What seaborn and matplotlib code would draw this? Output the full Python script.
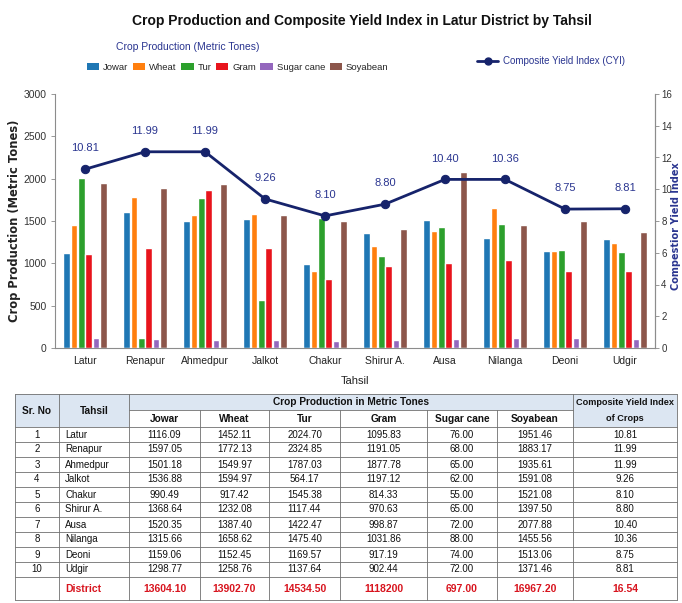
import numpy as np
import pandas as pd
import matplotlib
matplotlib.use("Agg")
import matplotlib.pyplot as plt
import seaborn as sns
from matplotlib.patches import Rectangle, Patch
from matplotlib.lines import Line2D

# ---------------- data ----------------
tahsils = ["Latur", "Renapur", "Ahmedpur", "Jalkot", "Chakur", "Shirur A.", "Ausa", "Nilanga", "Deoni", "Udgir"]
crops = ["Jowar", "Wheat", "Tur", "Gram", "Sugar cane", "Soyabean"]

# bar heights as drawn in the chart (metric tones)
bar_jowar = [1120, 1610, 1498, 1529, 994, 1360, 1510, 1305, 1148, 1293]
bar_wheat = [1454, 1789, 1566, 1584, 904, 1206, 1378, 1652, 1148, 1236]
bar_tur = [2012, 118, 1777, 562, 1533, 1090, 1427, 1466, 1159, 1128]
bar_gram = [1106, 1187, 1865, 1179, 816, 963, 1002, 1038, 915, 908]
bar_sugar = [118, 106, 98, 98, 86, 100, 102, 113, 121, 106]
bar_soy = [1953, 1893, 1934, 1572, 1504, 1405, 2078, 1450, 1501, 1371]
# CYI line: point heights as drawn, and the labels printed above them
cyi_points = [11.26, 12.36, 12.36, 9.39, 8.32, 9.06, 10.62, 10.62, 8.75, 8.77]
cyi_labels = [10.81, 11.99, 11.99, 9.26, 8.10, 8.80, 10.40, 10.36, 8.75, 8.81]

# table values
sr_no = list(range(1, 11))
tbl_jowar = [1116.09, 1597.05, 1501.18, 1536.88, 990.49, 1368.64, 1520.35, 1315.66, 1159.06, 1298.77]
tbl_wheat = [1452.11, 1772.13, 1549.97, 1594.97, 917.42, 1232.08, 1387.40, 1658.62, 1152.45, 1258.76]
tbl_tur = [2024.70, 2324.85, 1787.03, 564.17, 1545.38, 1117.44, 1422.47, 1475.40, 1169.57, 1137.64]
tbl_gram = [1095.83, 1191.05, 1877.78, 1197.12, 814.33, 970.63, 998.87, 1031.86, 917.19, 902.44]
tbl_sugar = [76.00, 68.00, 65.00, 62.00, 55.00, 65.00, 72.00, 88.00, 74.00, 72.00]
tbl_soy = [1951.46, 1883.17, 1935.61, 1591.08, 1521.08, 1397.50, 2077.88, 1455.56, 1513.06, 1371.46]
tbl_cyi = [10.81, 11.99, 11.99, 9.26, 8.10, 8.80, 10.40, 10.36, 8.75, 8.81]
district_row = ["13604.10", "13902.70", "14534.50", "1118200", "697.00", "16967.20", "16.54"]

# ---------------- style ----------------
sns.set_theme(style="white")
plt.rcParams["font.family"] = ["Liberation Sans", "DejaVu Sans"]

colors = ["#1f77b4", "#ff7f0e", "#2ca02c", "#e8141c", "#9467bd", "#8c564b"]
navy = "#16236b"
navy_txt = "#2a3590"

W, H = 682, 603
fig = plt.figure(figsize=(W / 100, H / 100), dpi=100)

def fx(px):
    return px / W

def fy(py):
    return 1 - py / H

# ---------------- chart ----------------
ax = fig.add_axes([fx(55), fy(348), fx(655) - fx(55), fy(94) - fy(348)])
df = pd.DataFrame({"Tahsil": tahsils, "Jowar": bar_jowar, "Wheat": bar_wheat, "Tur": bar_tur,
                   "Gram": bar_gram, "Sugar cane": bar_sugar, "Soyabean": bar_soy})
long = df.melt(id_vars="Tahsil", var_name="Crop", value_name="Production")
sns.barplot(data=long, x="Tahsil", y="Production", hue="Crop", hue_order=crops, order=tahsils,
            palette=colors, width=0.73, gap=0.1, saturation=1, ax=ax, legend=False)
ax.set_ylim(0, 3000)
ax.set_xlim(-0.5, 9.5)
ax.set_yticks(range(0, 3001, 500))
ax.set_xlabel("Tahsil", fontsize=8, color="#222222", labelpad=7)
ax.set_ylabel("")
ax.tick_params(axis="y", length=3, width=0.6, color="#888888", labelsize=7.5, labelcolor="#333333", pad=3)
ax.tick_params(axis="x", length=0, labelsize=7.5, labelcolor="#222222", pad=6)
ax.spines["top"].set_visible(False)
for s in ["left", "bottom", "right"]:
    ax.spines[s].set_color("#8c8c8c")
    ax.spines[s].set_linewidth(0.8)

ax2 = ax.twinx()
sns.lineplot(x=np.arange(len(tahsils)), y=cyi_points, ax=ax2, color=navy, linewidth=2,
             marker="o", markersize=6, markeredgecolor=navy, zorder=5)
ax2.set_ylim(0, 16)
ax2.set_yticks(range(0, 17, 2))
ax2.set_ylabel("")
ax2.tick_params(axis="y", length=3, width=0.6, color="#888888", labelsize=7, labelcolor="#333333", pad=1.5)
for s in ["top", "left", "bottom"]:
    ax2.spines[s].set_visible(False)
ax2.spines["right"].set_color("#8c8c8c")
ax2.spines["right"].set_linewidth(0.8)
for i, (p, v) in enumerate(zip(cyi_points, cyi_labels)):
    ax2.annotate(f"{v:.2f}", (i, p), xytext=(0, 15), textcoords="offset points",
                 ha="center", va="center", fontsize=8, color=navy_txt)

# axis titles
fig.text(fx(15), fy(221), "Crop Production (Metric Tones)", rotation=90, ha="center", va="center",
         fontsize=8.3, fontweight="bold", family="DejaVu Sans", color="#222222")
fig.text(fx(676), fy(226), "Compestior Yield Index", rotation=90, ha="center", va="center",
         fontsize=7, fontweight="bold", family="DejaVu Sans", color=navy_txt)

# ---------------- title & legends ----------------
fig.text(fx(362), fy(21), "Crop Production and Composite Yield Index in Latur District by Tahsil",
         ha="center", va="center", fontsize=10, fontweight="bold", color="#111111")
fig.text(fx(188), fy(47), "Crop Production (Metric Tones)", ha="center", va="center",
         fontsize=7.5, color=navy_txt)
handles = [Patch(facecolor=c, edgecolor="none", label=l) for c, l in zip(colors, crops)]
fig.legend(handles=handles, loc="center left", bbox_to_anchor=(fx(87), fy(67)), ncol=6,
           frameon=False, fontsize=6.8, handlelength=1.3, handleheight=0.8,
           handletextpad=0.4, columnspacing=0.5, borderaxespad=0, borderpad=0)
fig.legend(handles=[Line2D([0], [0], color=navy, lw=2, marker="o", markersize=5,
                           label="Composite Yield Index (CYI)")],
           loc="center left", bbox_to_anchor=(fx(477), fy(61)), frameon=False, fontsize=7,
           handlelength=2.2, handletextpad=0.5, borderaxespad=0, borderpad=0, labelcolor=navy_txt)

# ---------------- table ----------------
tax = fig.add_axes([0, 0, 1, 1], zorder=-1)
tax.set_xlim(0, W)
tax.set_ylim(H, 0)
tax.axis("off")

xb = [15, 59, 129, 200, 269, 340, 427, 497, 573, 677]
y_top, y_mid, y_hdr = 394, 410, 427
row_h = 15
y_rows = [y_hdr + row_h * i for i in range(11)]
y_bot = 600
line_c = "#6f6f6f"
hdr_fill = "#dce6f2"

tax.add_patch(Rectangle((xb[0], y_top), xb[-1] - xb[0], y_hdr - y_top, facecolor=hdr_fill, edgecolor="none"))
tax.add_patch(Rectangle((xb[2], y_mid), xb[8] - xb[2], y_hdr - y_mid, facecolor="white", edgecolor="none"))

tax.plot([xb[2], xb[8]], [y_mid, y_mid], color=line_c, lw=0.6)
for yy in [y_top] + y_rows + [y_bot]:
    tax.plot([xb[0], xb[-1]], [yy, yy], color=line_c, lw=0.6)
for i, xx in enumerate(xb):
    top = y_mid if 3 <= i <= 7 else y_top
    tax.plot([xx, xx], [top, y_bot], color=line_c, lw=0.6)

hdr_kw = dict(ha="center", va="center", fontsize=7.3, fontweight="bold", color="#111111")
tax.text((xb[0] + xb[1]) / 2, (y_top + y_hdr) / 2, "Sr. No", **hdr_kw)
tax.text((xb[1] + xb[2]) / 2, (y_top + y_hdr) / 2, "Tahsil", **hdr_kw)
tax.text((xb[2] + xb[8]) / 2, (y_top + y_mid) / 2, "Crop Production in Metric Tones", **hdr_kw)
tax.text((xb[8] + xb[9]) / 2, (y_top + y_mid) / 2 + 0.5, "Composite Yield Index",
         **{**hdr_kw, "fontsize": 6.6})
tax.text((xb[8] + xb[9]) / 2, (y_mid + y_hdr) / 2, "of Crops", **{**hdr_kw, "fontsize": 6.6})
for j, c in enumerate(crops):
    tax.text((xb[2 + j] + xb[3 + j]) / 2, (y_mid + y_hdr) / 2, c, **hdr_kw)

cols = [tbl_jowar, tbl_wheat, tbl_tur, tbl_gram, tbl_sugar, tbl_soy, tbl_cyi]
body_kw = dict(va="center", fontsize=7, color="#111111")
for r in range(10):
    yc = y_rows[r] + row_h / 2
    tax.text((xb[0] + xb[1]) / 2, yc, str(sr_no[r]), ha="center", **body_kw)
    tax.text(xb[1] + 6, yc, tahsils[r], ha="left", **body_kw)
    for j, col in enumerate(cols):
        tax.text((xb[2 + j] + xb[3 + j]) / 2, yc, f"{col[r]:.2f}", ha="center", **body_kw)

red = "#d8141e"
yc = (y_rows[-1] + y_bot) / 2
tax.text(xb[1] + 6, yc, "District", ha="left", va="center", fontsize=7.5, fontweight="bold", color=red)
for j, v in enumerate(district_row):
    tax.text((xb[2 + j] + xb[3 + j]) / 2, yc, v, ha="center", va="center", fontsize=7.5,
             fontweight="bold", color=red)

fig.savefig("out.png", dpi=100, facecolor="white")
